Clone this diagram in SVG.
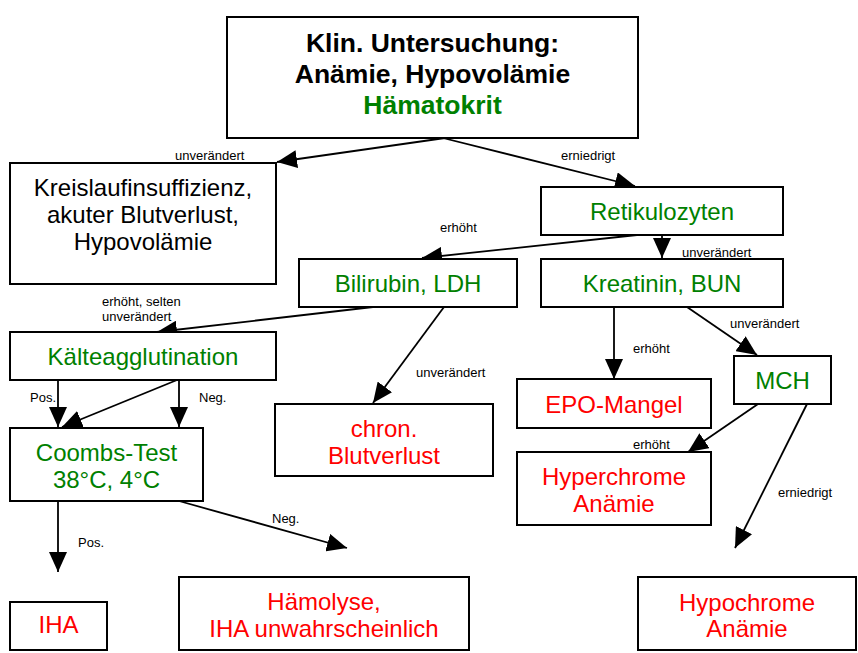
<svg xmlns="http://www.w3.org/2000/svg" width="858" height="653" viewBox="0 0 858 653">
<defs>
<marker id="ah" markerUnits="userSpaceOnUse" viewBox="0 0 20 18" refX="20" refY="9" markerWidth="20" markerHeight="18" orient="auto">
<path d="M0,0 L20,9 L0,18 Z" fill="#000"/>
</marker>
<style>
.box{fill:#fff;stroke:#000;stroke-width:2}
.t{font-family:"Liberation Sans",Arial,sans-serif;font-size:24px;text-anchor:middle}
.tb{font-family:"Liberation Sans",Arial,sans-serif;font-size:26.5px;font-weight:bold;text-anchor:middle}
.g{fill:#008000}
.r{fill:#ff0000}
.k{fill:#000}
.lbl{font-family:"Liberation Sans",Arial,sans-serif;font-size:13px;fill:#000}
.c{stroke:#000;stroke-width:1.8;fill:none;marker-end:url(#ah)}
</style>
</defs>
<rect width="858" height="653" fill="#fff"/>
<g id="connectors">
<line class="c" x1="445" y1="138" x2="277" y2="162"/>
<line class="c" x1="443" y1="138" x2="635" y2="186"/>
<line class="c" x1="637" y1="235" x2="422" y2="258"/>
<line class="c" x1="662" y1="235" x2="662" y2="258"/>
<line class="c" x1="614" y1="307" x2="614" y2="379"/>
<line class="c" x1="687" y1="307" x2="757" y2="355"/>
<line class="c" x1="758" y1="404" x2="688" y2="452"/>
<line class="c" x1="807" y1="404" x2="735" y2="548"/>
<line class="c" x1="373" y1="307" x2="157" y2="332"/>
<line class="c" x1="444" y1="307" x2="373" y2="403"/>
<line class="c" x1="58" y1="380" x2="58" y2="427"/>
<line class="c" x1="179" y1="380" x2="179" y2="427"/>
<line class="c" x1="177" y1="380" x2="62" y2="427"/>
<line class="c" x1="58" y1="501" x2="58" y2="572"/>
<line class="c" x1="179" y1="501" x2="347" y2="548"/>
<text class="lbl" x="175" y="160">unverändert</text>
<text class="lbl" x="561" y="160">erniedrigt</text>
<text class="lbl" x="440" y="232">erhöht</text>
<text class="lbl" x="682" y="257">unverändert</text>
<text class="lbl" x="102" y="306">erhöht, selten</text>
<text class="lbl" x="102" y="321">unverändert</text>
<text class="lbl" x="416" y="377">unverändert</text>
<text class="lbl" x="633" y="353">erhöht</text>
<text class="lbl" x="730" y="328">unverändert</text>
<text class="lbl" x="633" y="449">erhöht</text>
<text class="lbl" x="778" y="497">erniedrigt</text>
<text class="lbl" x="30" y="402">Pos.</text>
<text class="lbl" x="199" y="402">Neg.</text>
<text class="lbl" x="78" y="547">Pos.</text>
<text class="lbl" x="272" y="523">Neg.</text>
</g>
<g id="klin">
<rect class="box" x="227" y="17" width="411" height="121"/>
<text class="tb k" x="432.5" y="52">Klin. Untersuchung:</text>
<text class="tb k" x="432.5" y="83">Anämie, Hypovolämie</text>
<text class="tb g" x="432.5" y="114">Hämatokrit</text>
</g>
<g id="kreislauf">
<rect class="box" x="10" y="163" width="266" height="121"/>
<text class="t k" x="143" y="196">Kreislaufinsuffizienz,</text>
<text class="t k" x="143" y="223">akuter Blutverlust,</text>
<text class="t k" x="143" y="250">Hypovolämie</text>
</g>
<g id="retikulozyten">
<rect class="box" x="541" y="187" width="242" height="48"/>
<text class="t g" x="662" y="220">Retikulozyten</text>
</g>
<g id="kreatinin">
<rect class="box" x="541" y="259" width="242" height="48"/>
<text class="t g" x="662" y="292">Kreatinin, BUN</text>
</g>
<g id="bilirubin">
<rect class="box" x="299" y="259" width="218" height="48"/>
<text class="t g" x="408" y="292">Bilirubin, LDH</text>
</g>
<g id="kaelte">
<rect class="box" x="10" y="332" width="266" height="48"/>
<text class="t g" x="143" y="365">Kälteagglutination</text>
</g>
<g id="coombs">
<rect class="box" x="10" y="428" width="193" height="73"/>
<text class="t g" x="106.5" y="461">Coombs-Test</text>
<text class="t g" x="106.5" y="488">38°C, 4°C</text>
</g>
<g id="chron">
<rect class="box" x="275" y="404" width="218" height="72"/>
<text class="t r" x="384" y="437">chron.</text>
<text class="t r" x="384" y="464">Blutverlust</text>
</g>
<g id="iha">
<rect class="box" x="10" y="602" width="97" height="48"/>
<text class="t r" x="58.5" y="633">IHA</text>
</g>
<g id="haemolyse">
<rect class="box" x="179" y="577" width="290" height="73"/>
<text class="t r" x="324" y="610">Hämolyse,</text>
<text class="t r" x="324" y="637">IHA unwahrscheinlich</text>
</g>
<g id="epo">
<rect class="box" x="517" y="379" width="194" height="49"/>
<text class="t r" x="614" y="413">EPO-Mangel</text>
</g>
<g id="mch">
<rect class="box" x="734" y="356" width="97" height="48"/>
<text class="t g" x="782.5" y="389">MCH</text>
</g>
<g id="hyperchrome">
<rect class="box" x="517" y="452" width="194" height="73"/>
<text class="t r" x="614" y="485">Hyperchrome</text>
<text class="t r" x="614" y="512">Anämie</text>
</g>
<g id="hypochrome">
<rect class="box" x="638" y="577" width="218" height="73"/>
<text class="t r" x="747" y="611">Hypochrome</text>
<text class="t r" x="747" y="637">Anämie</text>
</g>
</svg>
